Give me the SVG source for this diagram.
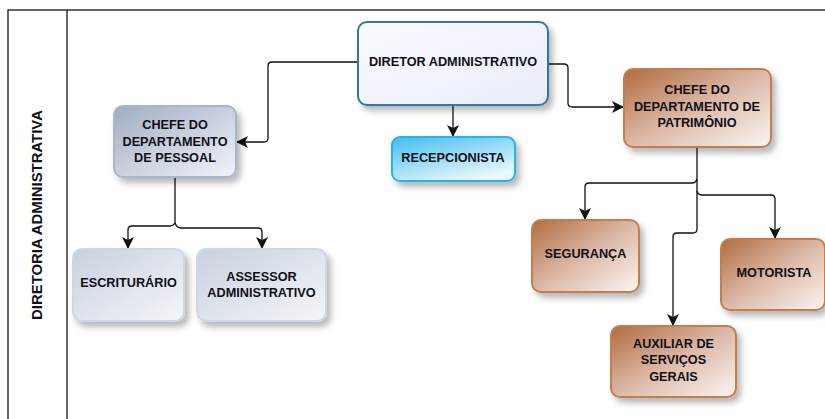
<svg xmlns="http://www.w3.org/2000/svg" width="825" height="419" viewBox="0 0 825 419">
<style>
.t{font-family:"Liberation Sans",Arial,sans-serif;font-weight:bold;font-size:12.7px;fill:#101018;text-anchor:middle}
.c{fill:none;stroke:#111;stroke-width:1.3}
.frame{fill:none;stroke:#333;stroke-width:1.5}
</style>
<defs>
<filter id="sh" x="-20%" y="-20%" width="150%" height="160%">
<feDropShadow dx="4" dy="5" stdDeviation="3" flood-color="#000" flood-opacity="0.28"/>
</filter>
<linearGradient id="gDir" x1="0" y1="0" x2="1" y2="1">
<stop offset="0" stop-color="#fbfbff"/><stop offset="1" stop-color="#e9ecfb"/>
</linearGradient>
<linearGradient id="gGray" x1="0" y1="0" x2="1" y2="1">
<stop offset="0" stop-color="#9fadc3"/><stop offset="1" stop-color="#f2f4f8"/>
</linearGradient>
<linearGradient id="gGray2" x1="0" y1="0" x2="1" y2="1">
<stop offset="0" stop-color="#c9d1de"/><stop offset="1" stop-color="#f4f6f9"/>
</linearGradient>
<linearGradient id="gCyan" x1="0" y1="0" x2="0.6" y2="1">
<stop offset="0" stop-color="#3fbdee"/><stop offset="1" stop-color="#eaf7fd"/>
</linearGradient>
<linearGradient id="gBrown" x1="0" y1="0" x2="1" y2="1">
<stop offset="0" stop-color="#b06c40"/><stop offset="0.5" stop-color="#dcb8a6"/><stop offset="1" stop-color="#fcf6f4"/>
</linearGradient>
<marker id="ar" markerUnits="userSpaceOnUse" markerWidth="12" markerHeight="12" viewBox="0 0 12 12" refX="12" refY="6" orient="auto">
<path d="M0,0 L12,6 L0,12 L3,6 z" fill="#111"/>
</marker>
</defs>

<rect class="frame" x="8" y="10" width="830" height="420"/>
<line class="frame" x1="67" y1="10" x2="67" y2="420"/>
<text class="t" style="font-size:14.9px" transform="translate(37,215) rotate(-90)" dominant-baseline="central">DIRETORIA ADMINISTRATIVA</text>

<g id="connectors">
<path class="c" marker-end="url(#ar)" d="M358,62 H272 Q268,62 268,66 V138 Q268,142 264,142 H236"/>
<path class="c" marker-end="url(#ar)" d="M453,105 V137"/>
<path class="c" marker-end="url(#ar)" d="M548,64 H564 Q568,64 568,68 V103 Q568,107 572,107 H624"/>
<path class="c" d="M175,177 V223"/>
<path class="c" marker-end="url(#ar)" d="M175,223 Q173,226 170,226 H132 Q128,226 128,230 V249"/>
<path class="c" marker-end="url(#ar)" d="M175,223 Q177,228 181,228 H258 Q262,228 262,232 V249"/>
<path class="c" marker-end="url(#ar)" d="M697,147 V229 Q697,233 693,233 H677 Q673,233 673,237 V326"/>
<path class="c" marker-end="url(#ar)" d="M697,179 Q696,183 692,183 H589 Q585,183 585,187 V220"/>
<path class="c" marker-end="url(#ar)" d="M697,191 Q698,195 702,195 H771 Q775,195 775,199 V239"/>
</g>

<g id="diretor">
<rect x="358" y="22" width="190" height="83" rx="9" fill="url(#gDir)" stroke="#2f7aa6" stroke-width="2" filter="url(#sh)"/>
<text class="t" x="453" y="66">DIRETOR ADMINISTRATIVO</text>
</g>
<g id="chefe-pessoal">
<rect x="114" y="106" width="122" height="71" rx="9" fill="url(#gGray)" stroke="#a7b6cc" stroke-width="2" filter="url(#sh)"/>
<text class="t" x="175" y="129">CHEFE DO</text>
<text class="t" x="175" y="146">DEPARTAMENTO</text>
<text class="t" x="175" y="162">DE PESSOAL</text>
</g>
<g id="recepcionista">
<rect x="392" y="137" width="123" height="44" rx="8" fill="url(#gCyan)" stroke="#22b6ec" stroke-width="2" filter="url(#sh)"/>
<text class="t" x="453" y="162">RECEPCIONISTA</text>
</g>
<g id="chefe-patrimonio">
<rect x="624" y="69" width="147" height="78" rx="9" fill="url(#gBrown)" stroke="#c47e4c" stroke-width="2" filter="url(#sh)"/>
<text class="t" x="697" y="94">CHEFE DO</text>
<text class="t" x="697" y="111">DEPARTAMENTO DE</text>
<text class="t" x="697" y="127">PATRIMÔNIO</text>
</g>
<g id="escriturario">
<rect x="73" y="249" width="111" height="72" rx="9" fill="url(#gGray2)" stroke="#cfd7e3" stroke-width="2" filter="url(#sh)"/>
<text class="t" x="128.5" y="287">ESCRITURÁRIO</text>
</g>
<g id="assessor">
<rect x="197" y="249" width="129" height="72" rx="9" fill="url(#gGray2)" stroke="#cfd7e3" stroke-width="2" filter="url(#sh)"/>
<text class="t" x="261.5" y="281">ASSESSOR</text>
<text class="t" x="261.5" y="297">ADMINISTRATIVO</text>
</g>
<g id="seguranca">
<rect x="532" y="220" width="107" height="72" rx="9" fill="url(#gBrown)" stroke="#c47e4c" stroke-width="2" filter="url(#sh)"/>
<text class="t" x="585.5" y="258">SEGURANÇA</text>
</g>
<g id="motorista">
<rect x="721" y="239" width="104" height="71" rx="9" fill="url(#gBrown)" stroke="#c47e4c" stroke-width="2" filter="url(#sh)"/>
<text class="t" x="774" y="277">MOTORISTA</text>
</g>
<g id="auxiliar">
<rect x="611" y="326" width="125" height="71" rx="9" fill="url(#gBrown)" stroke="#c47e4c" stroke-width="2" filter="url(#sh)"/>
<text class="t" x="673.5" y="348">AUXILIAR DE</text>
<text class="t" x="673.5" y="364">SERVIÇOS</text>
<text class="t" x="673.5" y="381">GERAIS</text>
</g>
</svg>
